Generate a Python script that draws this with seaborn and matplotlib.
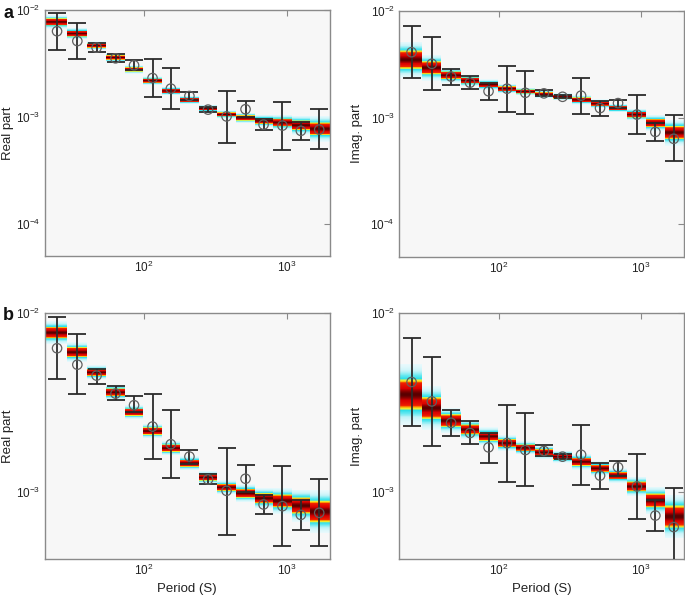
import numpy as np
import pandas as pd
import matplotlib
matplotlib.use("Agg")
import matplotlib.pyplot as plt
import seaborn as sns
from matplotlib.colors import LinearSegmentedColormap
from matplotlib.ticker import NullLocator

# ---------------- data ----------------
periods = [24.5, 34, 46.4, 63, 85, 114.6, 154, 208, 281, 379, 515, 689, 935, 1259, 1694]

# Real part: posterior median, posterior spread (visible extent, decades), observed, error limits
real_median = [7.74e-3, 6.02e-3, 4.64e-3, 3.59e-3, 2.78e-3, 2.18e-3, 1.75e-3, 1.44e-3,
               1.20e-3, 1.056e-3, 9.79e-4, 9.18e-4, 8.87e-4, 8.36e-4, 7.74e-4]
real_spread = [0.13, 0.11, 0.08, 0.085, 0.08, 0.082, 0.082, 0.08,
               0.072, 0.078, 0.10, 0.115, 0.145, 0.18, 0.24]
real_obs = [6.33e-3, 5.12e-3, 4.45e-3, 3.53e-3, 3.04e-3, 2.31e-3, 1.84e-3, 1.57e-3,
            1.17e-3, 1.01e-3, 1.18e-3, 8.47e-4, 8.29e-4, 7.41e-4, 7.61e-4]
real_hi = [9.42e-3, 7.61e-3, 4.87e-3, 3.88e-3, 3.41e-3, 3.49e-3, 2.86e-3, 1.70e-3,
           1.25e-3, 1.76e-3, 1.41e-3, 9.62e-4, 1.39e-3, 9.03e-4, 1.18e-3]
real_lo = [4.27e-3, 3.49e-3, 4.02e-3, 3.25e-3, 2.77e-3, 1.53e-3, 1.19e-3, 1.43e-3,
           1.10e-3, 5.70e-4, 9.9e-4, 7.52e-4, 4.94e-4, 6.07e-4, 4.97e-4]

# Imaginary part
imag_median = [3.50e-3, 2.94e-3, 2.50e-3, 2.23e-3, 2.04e-3, 1.87e-3, 1.76e-3, 1.66e-3,
               1.57e-3, 1.47e-3, 1.35e-3, 1.23e-3, 1.07e-3, 8.93e-4, 7.26e-4]
imag_spread = [0.34, 0.245, 0.14, 0.11, 0.10, 0.09, 0.075, 0.075,
               0.068, 0.09, 0.082, 0.082, 0.11, 0.155, 0.245]
imag_obs = [4.11e-3, 3.20e-3, 2.43e-3, 2.13e-3, 1.77e-3, 1.87e-3, 1.71e-3, 1.69e-3,
            1.57e-3, 1.61e-3, 1.23e-3, 1.37e-3, 1.07e-3, 7.35e-4, 6.34e-4]
imag_hi = [7.22e-3, 5.66e-3, 2.88e-3, 2.48e-3, 2.13e-3, 3.06e-3, 2.75e-3, 1.83e-3,
           1.63e-3, 2.37e-3, 1.44e-3, 1.48e-3, 1.63e-3, 8.93e-4, 1.05e-3]
imag_lo = [2.33e-3, 1.80e-3, 2.04e-3, 1.84e-3, 1.45e-3, 1.13e-3, 1.08e-3, 1.59e-3,
           1.52e-3, 1.09e-3, 1.03e-3, 1.23e-3, 7.03e-4, 6.03e-4, 3.94e-4]

x_limits = (20, 2000)
x_ticks = [1e2, 1e3]
panel_letters = ["a", "b"]
y_labels = ["Real part", "Imag. part"]
x_label = "Period (S)"

# ---------------- style ----------------
sns.set_style("white")
plt.rcParams["font.family"] = ["Liberation Sans", "DejaVu Sans"]
plt.rcParams["mathtext.fontset"] = "custom"
plt.rcParams["mathtext.rm"] = "Liberation Sans"
plt.rcParams["mathtext.it"] = "Liberation Sans:italic"
plt.rcParams["mathtext.bf"] = "Liberation Sans:bold"

cmap = LinearSegmentedColormap.from_list("post", [
    (0.00, "#e8f9fc"),
    (0.12, "#c2f3f8"),
    (0.26, "#62e8f0"),
    (0.38, "#30dfea"),
    (0.47, "#eef034"),
    (0.55, "#ffa000"),
    (0.63, "#f02000"),
    (0.88, "#d80000"),
    (0.96, "#900000"),
    (1.00, "#5a0000"),
])

BG = "#f7f7f7"
FRAME = "#8a8a8a"
TXT = "#222222"

fig = plt.figure(figsize=(6.85, 5.99), dpi=100)
W, H = 685.0, 599.0
def axes_px(left, top, right, bottom):
    return fig.add_axes([left / W, 1 - bottom / H, (right - left) / W, (bottom - top) / H])

layout = {
    (0, 0): (44.5, 10, 329.5, 256),
    (0, 1): (399, 11, 684, 256.5),
    (1, 0): (44.5, 312.7, 329.5, 559),
    (1, 1): (399, 313, 684, 559),
}
ylims = [(5e-5, 1e-2), (4.2e-4, 1e-2)]
yticks = [[1e-4, 1e-3, 1e-2], [1e-3, 1e-2]]
ylabel_x_px = [14, 363]

series = [
    (real_median, real_spread, real_obs, real_lo, real_hi),
    (imag_median, imag_spread, imag_obs, imag_lo, imag_hi),
]

per = np.asarray(periods, float)
logp = np.log10(per)
edges = np.concatenate([[x_limits[0]], 10 ** ((logp[:-1] + logp[1:]) / 2), [x_limits[1]]])

thr = 0.04
for (r, c), box in layout.items():
    ax = axes_px(*box)
    ax.set_facecolor(BG)
    ax.set_xscale("log")
    ax.set_yscale("log")
    med, spr, obs, lo, hi = [np.asarray(a, float) for a in series[c]]

    # posterior density boxes
    for i in range(len(per)):
        cen = np.log10(med[i])
        sig = spr[i] / (2 * np.sqrt(2 * np.log(1 / thr)))
        ye = np.linspace(cen - 3.2 * sig, cen + 3.2 * sig, 161)
        ym = (ye[:-1] + ye[1:]) / 2
        dens = np.exp(-0.5 * ((ym - cen) / sig) ** 2)
        dens = np.ma.masked_less(dens, thr)
        X, Y = np.meshgrid([edges[i], edges[i + 1]], 10 ** ye)
        ax.pcolormesh(X, Y, dens[:, None], cmap=cmap, vmin=thr, vmax=1.0,
                      shading="flat", rasterized=True, zorder=1)

    # observed error bars
    ax.errorbar(per, obs, yerr=[obs - lo, hi - obs], fmt="none", ecolor="#2b2b2b",
                elinewidth=1.3, capsize=6.2, capthick=1.3, zorder=3)

    # observed values (open circles)
    df = pd.DataFrame({"period": per, "value": obs})
    sns.scatterplot(data=df, x="period", y="value", ax=ax, marker="o", s=46,
                    edgecolor="#606060", linewidth=0.9, zorder=4, legend=False)
    ax.collections[-1].set_facecolor("none")

    ax.set_xlim(*x_limits)
    ax.set_ylim(*ylims[r])
    ax.set_xticks(x_ticks)
    ax.set_yticks(yticks[r])
    ax.xaxis.set_minor_locator(NullLocator())
    ax.yaxis.set_minor_locator(NullLocator())
    ax.tick_params(which="both", direction="in", top=True, right=True, length=4,
                   width=0.8, color=FRAME, labelsize=8.5, labelcolor=TXT, pad=3)
    for sp in ax.spines.values():
        sp.set_color(FRAME)
        sp.set_linewidth(1.0)
    ax.set_ylabel(y_labels[c], fontsize=9.5, color=TXT)
    x0 = box[0]
    ax.yaxis.set_label_coords((ylabel_x_px[c] - x0) / (box[2] - x0), 0.5)
    if r == 1:
        ax.set_xlabel(x_label, fontsize=9.5, color=TXT, labelpad=3)
    else:
        ax.set_xlabel("")

fig.text(3 / W, 1 - 18 / H, panel_letters[0], fontsize=13, fontweight="bold", color="#111111")
fig.text(3 / W, 1 - 320 / H, panel_letters[1], fontsize=13, fontweight="bold", color="#111111")

fig.savefig("out.png", dpi=100, facecolor="white")
